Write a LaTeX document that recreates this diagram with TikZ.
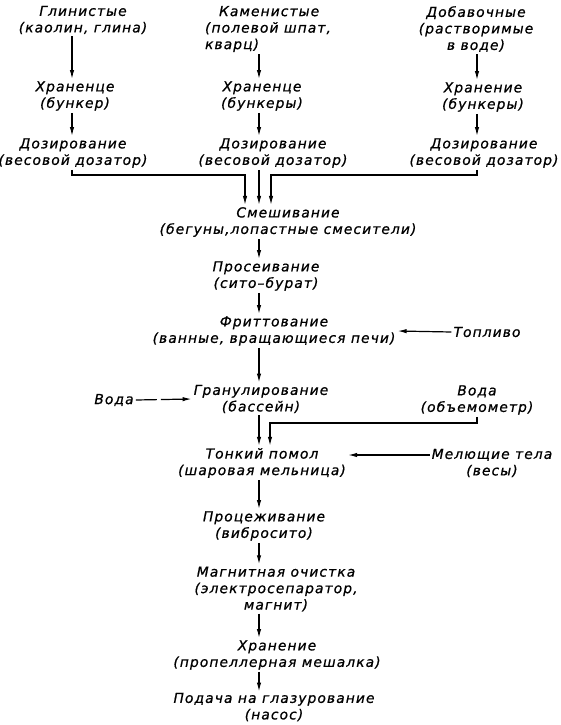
\documentclass[tikz,border=0pt]{standalone}
\usepackage{fontspec}
\setmainfont{DejaVu Sans}[LetterSpace=8, FakeBold=0.8]
\usetikzlibrary{positioning, calc, arrows.meta}

\tikzset{
  stage/.style={font=\itshape\fontsize{13.8}{16.5}\selectfont, align=center, inner sep=2pt},
  flow/.style={-{Latex[length=9pt,width=4.4pt]}, line width=1.2pt},
}

\begin{document}
\begin{tikzpicture}[x=1pt, y=-1pt]
    \useasboundingbox (0,0) rectangle (560,725);

    % Vertical lines of the three feeds and of the main flow
    \coordinate (c1) at (72,0);
    \coordinate (spine) at (259,0);
    \coordinate (c3) at (477,0);

    % Raw materials
    \node[stage] (glin) at (83,20) {Глинистые\\(каолин, глина)};
    \node[stage, align=left] (kam) at (268,29) {\hspace*{14pt}Каменистые\\(полевой шпат,\\кварц)};
    \node[stage] (dob) at (476,29) {Добавочные\\(растворимые\\в воде)};

    % Storage
    \node[stage] (xr1) at (75,96) {Храненце\\(бункер)};
    \node[stage] (xr2) at (262,96) {Храненце\\(бункеры)};
    \node[stage] (xr3) at (483,97) {Хранение\\(бункеры)};

    % Dosing
    \node[stage] (doz1) at (73,153) {Дозирование\\(весовой дозатор)};
    \node[stage] (doz2) at (273,153) {Дозирование\\(весовой дозатор)};
    \node[stage] (doz3) at (484,153) {Дозирование\\(весовой дозатор)};

    % Main flow
    \node[stage] (smesh) at (288,222) {Смешивание\\(бегуны,лопастные смесители)};
    \node[stage] (pros) at (266,276) {Просеивание\\(сито--бурат)};
    \node[stage] (fritt) at (274,331) {Фриттование\\(ванные, вращающиеся печи)};
    \node[stage] (gran) at (261,399) {Гранулирование\\(бассейн)};
    \node[stage] (tonk) at (262,463) {Тонкий помол\\(шаровая мельница)};
    \node[stage] (proc) at (264,526) {Процеживание\\(вибросито)};
    \node[stage] (magn) at (276,589) {Магнитная очистка\\(электросепаратор,\\магнит)};
    \node[stage] (xran) at (277,655) {Хранение\\(пропеллерная мешалка)};
    \node[stage, inner sep=1pt] (pod) at (274,707) {Подача на глазурование\\(насос)};

    % Side inputs
    \node[stage] (topl) at (487,332) {Топливо};
    \node[stage] (voda1) at (114,400) {Вода};
    \node[stage] (voda2) at (477,400) {Вода\\(объемометр)};
    \node[stage] (mel) at (492,463) {Мелющие тела\\(весы)};

    % Feed columns
    \draw[flow] (glin.south -| c1) -- (xr1.north -| c1);
    \draw[flow] (xr1.south -| c1) -- (doz1.north -| c1);
    \draw[flow] (kam.south -| spine) -- (xr2.north -| spine);
    \draw[flow] (xr2.south -| spine) -- (doz2.north -| spine);
    \draw[flow] (dob.south -| c3) -- (xr3.north -| c3);
    \draw[flow] (xr3.south -| c3) -- (doz3.north -| c3);

    % Joining into the mixer
    \coordinate (j1) at (245,175);
    \coordinate (j3) at (271,175);
    \draw[flow] (doz1.south -| c1) |- (j1) -- (j1 |- smesh.north);
    \draw[flow] (doz2.south -| spine) -- (smesh.north -| spine);
    \draw[flow] (doz3.south -| c3) |- (j3) -- (j3 |- smesh.north);

    % Main flow arrows
    \foreach \a/\b in {smesh/pros, pros/fritt, fritt/gran, gran/tonk, tonk/proc, proc/magn, magn/xran, xran/pod}
        \draw[flow] (\a.south -| spine) -- (\b.north -| spine);

    % Side arrows
    \draw[flow] (topl.west) -- (fritt.east);
    \draw[flow, dash pattern=on 21pt off 4pt on 60pt] (voda1.east) -- (gran.west);
    \coordinate (j4) at (270,423);
    \draw[flow] (voda2.south) |- (j4) -- (j4 |- tonk.north);
    \draw[flow] ([yshift=8pt]mel.west) -- ([yshift=8pt]tonk.east);
\end{tikzpicture}
\end{document}
